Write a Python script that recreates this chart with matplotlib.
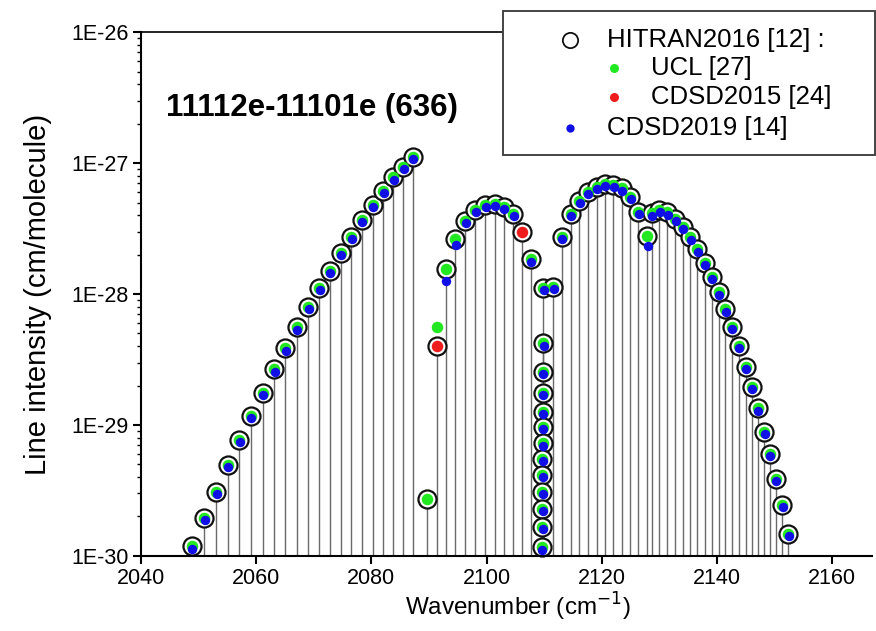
import matplotlib
matplotlib.use("Agg")
import matplotlib.pyplot as plt
import matplotlib.transforms as mtransforms
from matplotlib.lines import Line2D
from matplotlib.patches import Rectangle
import numpy as np

plt.rcParams['font.family'] = ['Liberation Sans', 'DejaVu Sans']

# HITRAN2016 line positions (cm-1) and intensities (cm/molecule)
wn = [2048.80, 2050.94, 2053.02, 2055.05, 2057.06, 2059.09, 2061.12, 2063.14,
      2065.05, 2067.03, 2069.04, 2070.90, 2072.75, 2074.66, 2076.50, 2078.36,
      2080.22, 2082.06, 2083.79, 2085.53, 2087.21,
      2089.70, 2091.33, 2092.94, 2094.56, 2096.29, 2098.03, 2099.76, 2101.40,
      2103.01, 2104.62, 2106.13, 2107.70,
      2109.83, 2109.81, 2109.79, 2109.77, 2109.75, 2109.73, 2109.71, 2109.69,
      2109.67, 2109.65, 2109.63, 2109.62, 2109.61, 2111.57,
      2113.08, 2114.59, 2116.08, 2117.59, 2119.10, 2120.54, 2121.98, 2123.49,
      2124.93, 2126.32, 2127.88, 2128.65, 2129.97, 2131.36, 2132.74, 2134.03,
      2135.35, 2136.56, 2137.85, 2139.11, 2140.28, 2141.42, 2142.58, 2143.75,
      2145.02, 2146.00, 2147.10, 2148.19, 2149.18, 2150.22, 2151.32, 2152.36]
hitran = [1.18e-30, 1.94e-30, 3.10e-30, 4.95e-30, 7.68e-30, 1.17e-29, 1.77e-29, 2.66e-29,
          3.85e-29, 5.57e-29, 8.0e-29, 1.11e-28, 1.50e-28, 2.07e-28, 2.74e-28, 3.67e-28,
          4.78e-28, 6.15e-28, 7.78e-28, 9.37e-28, 1.11e-27,
          2.72e-30, 4.0e-29, 1.54e-28, 2.61e-28, 3.61e-28, 4.38e-28, 4.78e-28, 4.88e-28,
          4.65e-28, 4.08e-28, 2.99e-28, 1.84e-28,
          1.11e-28, 4.2e-29, 2.55e-29, 1.75e-29, 1.26e-29, 9.6e-30, 7.24e-30, 5.47e-30,
          4.15e-30, 3.1e-30, 2.27e-30, 1.66e-30, 1.16e-30, 1.13e-28,
          2.74e-28, 4.08e-28, 5.15e-28, 6.04e-28, 6.59e-28, 6.91e-28, 6.79e-28, 6.41e-28,
          5.53e-28, 4.25e-28, 2.77e-28, 4.13e-28, 4.38e-28, 4.20e-28, 3.74e-28, 3.27e-28,
          2.71e-28, 2.19e-28, 1.73e-28, 1.36e-28, 1.03e-28, 7.64e-29, 5.62e-29, 4.01e-29,
          2.79e-29, 1.96e-29, 1.34e-29, 8.9e-30, 6.0e-30, 3.85e-30, 2.45e-30, 1.47e-30]

# UCL: same as HITRAN except where it differs / is absent
ucl = list(hitran)
ucl[22] = 5.6e-29      # 2091.33
ucl[31] = np.nan       # 2106.13 (not shown)

# CDSD2015: only visible where it differs
cdsd2015_wn = [2091.33, 2106.13]
cdsd2015 = [4.0e-29, 2.99e-28]

# CDSD2019: same as HITRAN except a few lines
cdsd2019 = list(hitran)
cdsd2019[21] = np.nan    # 2089.70
cdsd2019[22] = np.nan    # 2091.33
cdsd2019[23] = 1.31e-28  # 2092.94
cdsd2019[24] = 2.45e-28  # 2094.56
cdsd2019[31] = np.nan    # 2106.13
cdsd2019[57] = 2.44e-28  # 2127.88

xticks = [2040, 2060, 2080, 2100, 2120, 2140, 2160]
yticks = [1e-30, 1e-29, 1e-28, 1e-27, 1e-26]
ytick_labels = ['1E-30', '1E-29', '1E-28', '1E-27', '1E-26']

fig = plt.figure(figsize=(8.76, 6.31), dpi=100)
ax = fig.add_axes([0.161, 0.119, 0.835, 0.830])

ymin = 1e-30
ax.vlines(wn, ymin, hitran, color='#6a6a6a', lw=1.0, zorder=1)
ax.plot(wn, hitran, 'o', ms=13, mfc='white', mec='#111111', mew=1.6, zorder=2, clip_on=False)
ax.plot(wn, ucl, 'o', ms=8.3, mfc='#22e822', mec='none', zorder=3, clip_on=False)
ax.plot(cdsd2015_wn, cdsd2015, 'o', ms=8.3, mfc='#ee1c1c', mec='none', zorder=3, clip_on=False)
blue_tr = mtransforms.offset_copy(ax.transData, fig=fig, x=0.5, y=-2.2, units='dots')
ax.plot(wn, cdsd2019, 'o', ms=6.8, mfc='#1010e6', mec='none', zorder=4, clip_on=False,
        transform=blue_tr)

ax.set_yscale('log')
ax.set_xlim(2040, 2167)
ax.set_ylim(1e-30, 1e-26)
ax.set_xticks(xticks)
ax.set_yticks(yticks)
ax.set_yticklabels(ytick_labels)
ax.tick_params(axis='both', which='major', direction='out', length=6, width=1.5,
               labelsize=15.5, pad=3)
ax.tick_params(axis='y', which='minor', direction='out', length=3, width=1.0)
ax.tick_params(axis='x', which='minor', bottom=False)
ax.spines['right'].set_visible(False)
for s in ['left', 'bottom']:
    ax.spines[s].set_linewidth(1.5)
ax.spines['top'].set_linewidth(1.2)

ax.set_xlabel('Wavenumber (cm$^{-1}$)', fontsize=17.5)
ax.xaxis.set_label_coords(0.515, -0.066)
ax.set_ylabel('Line intensity (cm/molecule)', fontsize=21, labelpad=14)

ax.text(0.034, 0.855, '11112e-11101e (636)', transform=ax.transAxes,
        fontsize=22.5, fontweight='bold', va='center', ha='left')

# legend box drawn by hand (indented sub-entries)
W, H = 876.0, 631.0
def fx(px):
    return px / W
def fy(py):
    return 1 - py / H

fig.add_artist(Rectangle((fx(503), fy(155)), fx(875) - fx(503), fy(11) - fy(155),
                         transform=fig.transFigure, fc='white', ec='#444444',
                         lw=1.4, zorder=10))
entries = [
    (570, 40, 11.0, 'white', '#111111', 607, 'HITRAN2016 [12] :'),
    (614, 68, 6.5, '#22e822', 'none', 651, 'UCL [27]'),
    (614, 97, 6.5, '#ee1c1c', 'none', 651, 'CDSD2015 [24]'),
    (570, 128, 6.0, '#1010e6', 'none', 607, 'CDSD2019 [14]'),
]
for mx, my, ms, fc, ec, tx, label in entries:
    fig.add_artist(Line2D([fx(mx)], [fy(my)], marker='o', ms=ms, mfc=fc, mec=ec,
                          mew=1.3, transform=fig.transFigure, zorder=11))
    fig.text(fx(tx), fy(my), label, fontsize=18.5, va='center', ha='left', zorder=11)

fig.savefig('out.png', dpi=100)
